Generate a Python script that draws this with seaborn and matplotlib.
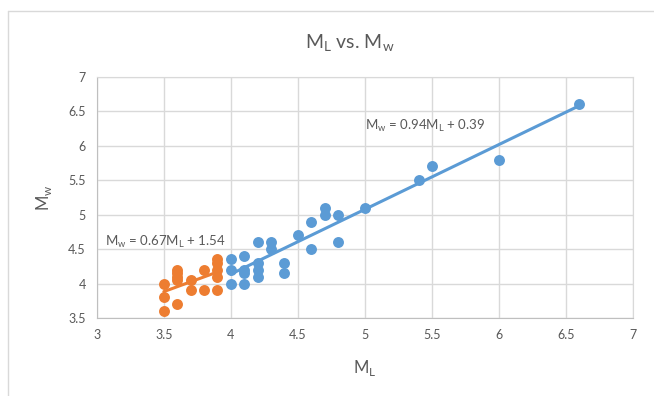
import numpy as np
import pandas as pd
import matplotlib
matplotlib.use("Agg")
import matplotlib.pyplot as plt
from matplotlib.lines import Line2D
import seaborn as sns

# ---- datos ----
ml_naranja = [3.5, 3.5, 3.5, 3.6, 3.6, 3.6, 3.6, 3.6, 3.7, 3.7, 3.8, 3.8,
              3.9, 3.9, 3.9, 3.9, 3.9]
mw_naranja = [4.0, 3.8, 3.6, 4.2, 4.15, 4.1, 4.05, 3.7, 4.05, 3.9, 4.2, 3.9,
              4.35, 4.3, 4.2, 4.1, 3.9]

ml_azul = [4.0, 4.0, 4.0, 4.1, 4.1, 4.1, 4.1, 4.2, 4.2, 4.2, 4.2, 4.3, 4.3,
           4.4, 4.4, 4.5, 4.6, 4.6, 4.7, 4.7, 4.8, 4.8, 5.0, 5.4, 5.5, 6.0, 6.6]
mw_azul = [4.35, 4.2, 4.0, 4.4, 4.2, 4.15, 4.0, 4.6, 4.3, 4.2, 4.1, 4.6, 4.5,
           4.3, 4.15, 4.7, 4.9, 4.5, 5.1, 5.0, 5.0, 4.6, 5.1, 5.5, 5.7, 5.8, 6.6]

eq_azul = r"M$_\mathregular{w}$ = 0.94M$_\mathregular{L}$ + 0.39"
eq_naranja = r"M$_\mathregular{w}$ = 0.67M$_\mathregular{L}$ + 1.54"

ticks_x = [3, 3.5, 4, 4.5, 5, 5.5, 6, 6.5, 7]
ticks_y = [3.5, 4, 4.5, 5, 5.5, 6, 6.5, 7]

AZUL = "#5B9BD5"
NARANJA = "#ED7D31"
GRIS = "#595959"

sns.set_style("white")
plt.rcParams["font.family"] = ["Lato", "DejaVu Sans"]

df_azul = pd.DataFrame({"ML": ml_azul, "Mw": mw_azul})
df_naranja = pd.DataFrame({"ML": ml_naranja, "Mw": mw_naranja})

fig = plt.figure(figsize=(6.54, 3.96), dpi=100)
ax = fig.add_axes([0.148, 0.197, 0.820, 0.609])

for df, color in [(df_azul, AZUL), (df_naranja, NARANJA)]:
    sns.regplot(data=df, x="ML", y="Mw", ax=ax, ci=None, color=color,
                scatter_kws={"s": 62, "alpha": 1, "linewidths": 0, "zorder": 3},
                line_kws={"lw": 2.2, "zorder": 4})

ax.set_xlim(3, 7)
ax.set_ylim(3.5, 7)
ax.set_xticks(ticks_x)
ax.set_yticks(ticks_y)
ax.set_xticklabels([f"{t:g}" for t in ticks_x])
ax.set_yticklabels([f"{t:g}" for t in ticks_y])
ax.grid(True, color="#d9d9d9", lw=1)
ax.set_axisbelow(True)
ax.tick_params(colors=GRIS, labelsize=9, length=0, pad=8)
for lado in ["top", "right"]:
    ax.spines[lado].set_color("#d9d9d9")
for lado in ["left", "bottom"]:
    ax.spines[lado].set_color("#bfbfbf")

ax.set_xlabel(r"M$_\mathregular{L}$", color=GRIS, fontsize=12, labelpad=12)
ax.set_ylabel(r"M$_\mathregular{w}$", color=GRIS, fontsize=12, labelpad=10)

ax.text(5.0, 6.28, eq_azul, color=GRIS, fontsize=9.5, va="center")
ax.text(3.06, 4.6, eq_naranja, color=GRIS, fontsize=9.5, va="center")

fig.text(0.535, 0.89, r"M$_\mathregular{L}$ vs. M$_\mathregular{w}$",
         ha="center", va="center", color=GRIS, fontsize=14)

# marco del area del grafico
fig.add_artist(Line2D([8 / 654, 1], [1 - 11 / 396] * 2, color="#d9d9d9", lw=1))
fig.add_artist(Line2D([8 / 654] * 2, [0, 1 - 11 / 396], color="#d9d9d9", lw=1))

fig.savefig("out.png", dpi=100)
